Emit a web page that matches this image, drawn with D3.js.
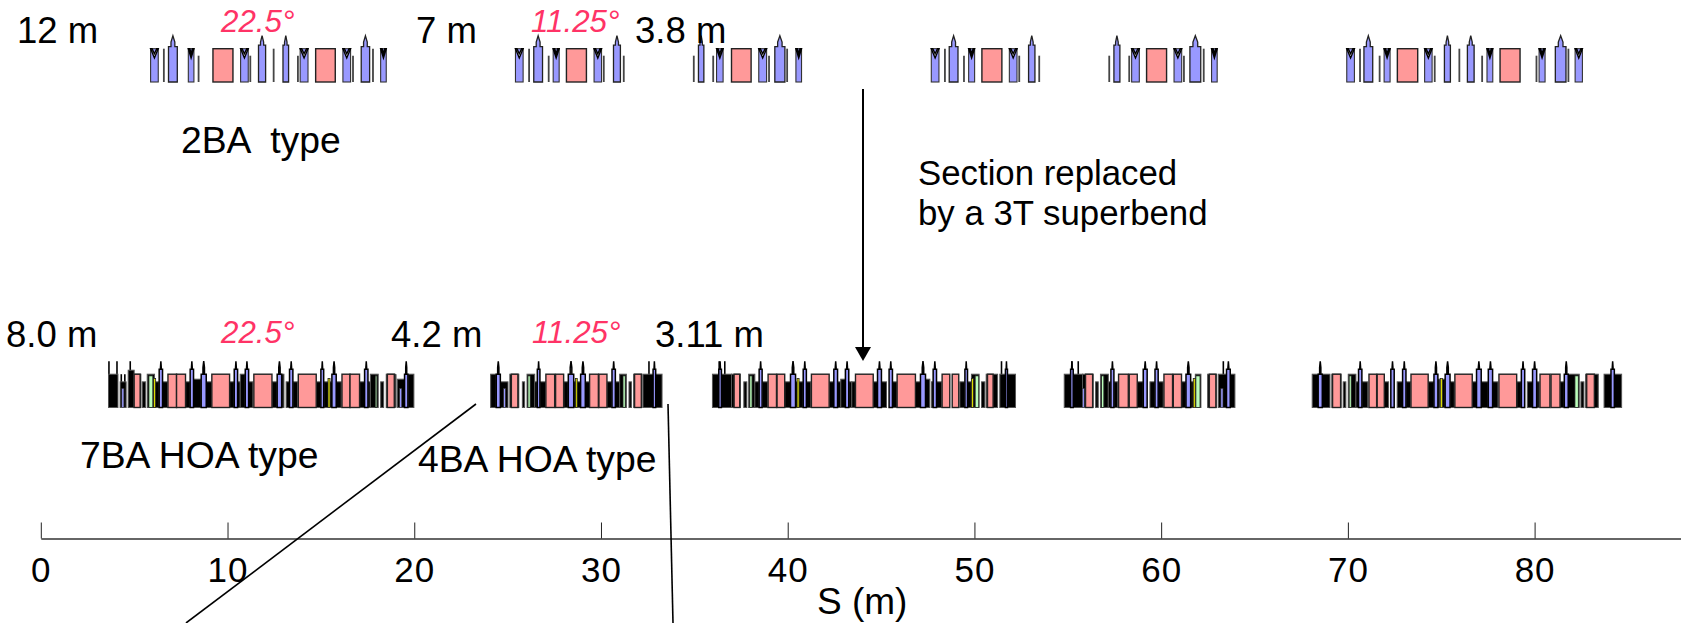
<!DOCTYPE html>
<html>
<head>
<meta charset="utf-8">
<script src="https://cdn.jsdelivr.net/npm/d3@7"></script>
<style>
  html, body { margin: 0; padding: 0; background: #fff; }
  svg { display: block; }
  text { font-family: "Liberation Sans", Arial, sans-serif; fill: #000; }
</style>
</head>
<body>
<div id="chart"></div>
<script>
// magnet positions in metres along S, heights in units of a bend height
var axisTicks = [0, 10, 20, 30, 40, 50, 60, 70, 80];

// top row (2BA / 4BA short cells)
var topBends = [[9.22,10.29],[14.72,15.77],[28.15,29.22],[36.99,38.04],[50.40,51.47],[59.22,60.29],[72.65,73.74],[78.15,79.22]];
var topWideQuads = [[6.84,7.31],[17.16,17.61],[26.40,26.87],[39.31,39.85],[48.65,49.12],[61.54,62.12],[70.86,71.33],[81.11,81.68]];
var topThinQuads = [[11.66,12.04],[12.97,13.27],[30.67,31.04],[35.22,35.51],[52.90,53.24],[57.47,57.79],[75.17,75.49],[76.40,76.76]];
var topSexts = [[5.88,6.29],[7.90,8.20],[10.70,11.11],[13.89,14.31],[16.18,16.59],[18.20,18.50],
  [25.42,25.83],[27.44,27.76],[29.63,30.03],[36.19,36.54],[38.45,38.87],[40.44,40.74],
  [47.69,48.10],[49.69,50.01],[51.87,52.28],[58.42,58.83],[60.69,61.10],[62.70,63.00],
  [69.94,70.35],[71.94,72.26],[74.11,74.51],[77.45,77.76],[80.24,80.56],[82.17,82.56]];
var topCorrectors = [[6.59,1],[8.45,.79],[11.22,.79],[12.47,1],[13.77,.79],[16.72,.79],[17.79,1],
  [26.15,1],[27.2,.79],[30.15,.79],[31.22,.79],[34.97,.79],[36.01,.79],[39.0,.79],[39.97,1],
  [48.42,1],[49.44,.79],[52.40,.79],[53.47,.79],[57.22,.79],[58.29,.79],[61.22,.79],[62.28,1],
  [70.65,1],[71.70,.79],[74.65,.79],[75.97,1],[77.19,.79],[80.1,.79],[81.81,1]];

// bottom row (7BA / 4BA HOA cells)
var lowBlocks = [
  [3.63,4.13,1],[4.25,4.57,.77],[4.68,5.0,1.12],[5.0,5.36,1],[5.43,5.61,.77],[5.70,6.09,1],[6.09,6.34,.77],[6.52,6.79,.77],
  [7.75,8.0,.77],[8.18,8.59,.85],[8.86,9.15,.77],[10.11,10.36,.77],[10.54,10.68,.77],[10.68,10.95,1],[11.13,11.36,.77],[12.38,12.66,.77],
  [12.9,13.02,1],[13.14,13.32,.77],[13.5,13.75,.77],[14.75,15.0,.77],[15.15,15.61,.77],[15.82,16.09,.77],[17.07,17.34,.77],[17.52,17.65,.77],
  [17.65,18.07,1],[18.2,18.36,.77],[18.5,18.98,1],[19.09,19.48,.85],[19.66,19.98,1],
  [24.09,24.39,1],[24.61,25.02,.77],[25.12,25.6,1],[25.79,25.91,.77],[26.04,26.45,1],[26.45,26.59,.77],[26.73,27.04,.77],[28,28.25,.77],[28.54,28.91,.77],
  [29.16,29.39,.77],[30.32,30.59,.77],[30.77,31,.77],[31,31.36,1],[31.5,31.63,.77],[31.75,32.2,1],[32.25,33.27,1],
  [35.97,36.99,1],[36.99,37.47,1],[37.65,37.81,.77],[37.91,38.24,1],[38.24,38.47,.77],[38.63,38.92,.77],[39.84,40.15,.77],[40.42,40.83,.77],
  [41,41.24,.77],[42.22,42.47,.77],[42.67,42.84,.77],[42.84,43.09,.85],[43.27,43.43,.77],[43.43,43.63,.77],[44.58,44.81,.77],[45.02,45.29,.77],
  [45.61,45.86,.77],[46.84,47.11,.77],[47.38,47.61,.85],[47.7,47.79,.77],[47.97,48.24,.77],[49.22,49.49,.77],[49.63,49.84,.77],[49.84,50.25,1],[50.38,50.56,.77],
  [50.63,51.24,1],[51.36,52.2,1],
  [54.81,55.79,1],[55.79,56.36,1],[56.49,56.63,.77],[56.75,57.17,1],[57.17,57.31,.77],[57.47,57.68,.77],[58.72,59.04,.77],[59.4,59.67,.77],
  [59.84,60.11,.77],[61.09,61.33,.77],[61.58,61.72,.77],[61.83,62.13,1],[62.49,62.97,1],[63.06,63.95,1],
  [68.09,69.04,1],[69.14,69.64,1],[69.75,69.89,.77],[70.02,70.43,1],[70.43,70.57,.77],[70.75,71.07,.77],[71.95,72.18,.77],[72.64,72.93,.77],
  [73.11,73.36,.77],[74.3,74.61,.77],[74.82,74.93,.85],[75.07,75.21,.85],[75.47,75.7,.77],[76.66,76.89,.77],[77.14,77.52,.77],[77.75,78.04,.77],
  [79.04,79.29,.77],[79.61,79.89,.77],[80.11,80.25,.77],[81.36,81.59,.77],[81.8,82.39,1],[82.48,82.64,.77],[82.73,83.41,1],[83.72,84.66,1]
];
var lowSpikes = [[3.65,1.39],[4.08,1.39],[4.31,1],[4.5,1],[4.79,1.39],[19.0,1],
  [32.57,1.39],[36.33,1.39],[36.63,1.39],[51.45,1.39],[55.22,1.39],[55.56,1.39],[63.33,1.39]];
var lowBends = [[5.0,5.32],[6.81,7.27],[7.27,7.75],[9.16,10.11],[11.41,12.38],[13.79,14.75],[16.13,16.56],[16.56,17.07],[18.56,18.93],
  [25.2,25.55],[27.05,27.52],[27.57,28],[29.39,29.86],[29.89,30.32],[31.8,32.16],
  [37.13,37.43],[38.95,39.4],[39.43,39.84],[41.27,42.22],[43.63,44.58],[45.86,46.84],[48.27,48.68],[48.81,49.16],[50.7,51.0],
  [55.95,56.33],[57.72,58.24],[58.29,58.72],[60.15,60.61],[60.65,61.09],[62.58,62.93],
  [69.18,69.61],[71.13,71.54],[71.57,71.95],[73.38,74.3],[75.73,76.66],[78.09,79.04],[80.29,80.82],[80.88,81.36],[82.79,83.2]];
var lowGreens = [[5.79,6.0],[17.91,18.0],[26.09,26.21],[31.18,31.3],[37.97,38.09],[50.04,50.23],[56.81,56.93],[61.86,62.08],[70.07,70.18],[82.16,82.34]];
var lowYellows = [[6.04,6.15],[15.38,15.49],[28.63,28.73],[40.5,40.61],[49.84,49.95],[61.72,61.83],[74.95,75.07]];
var lowWideQuads = [[8.59,8.86],[12.66,12.9],[15.59,15.82],[19.48,19.66],[24.39,24.61],[28.25,28.54],[28.91,29.16],
  [40.15,40.42],[47.11,47.38],[61.33,61.58],[68.41,68.63],[74.61,74.82],[75.21,75.47],[81.59,81.8]];
var lowThinQuads = [[6.34,6.52],[8.0,8.18],[10.36,10.54],[10.95,11.13],[13.32,13.5],[15.0,15.15],[17.34,17.52],
  [26.59,26.73],[30.59,30.77],[32.79,32.93],[36.31,36.45],[38.47,38.63],[40.83,41.0],[42.47,42.67],[43.09,43.27],[44.81,45.02],[45.43,45.61],[47.79,47.97],[49.49,49.63],[51.66,51.77],
  [55.15,55.29],[57.31,57.47],[59.04,59.25],[59.67,59.84],[63.5,63.7],
  [70.57,70.75],[72.3,72.48],[72.93,73.11],[76.89,77.14],[77.52,77.75],[79.29,79.47],[79.89,80.11],[84.09,84.27]];
var lowShortQuads = [[4.34,4.45],[19.22,19.33],[24.79,24.88],[55.79,55.88],[63.2,63.31]];

var blackLabels = [["12 m",17,43],["7 m",416,43],["3.8 m",635,43],["8.0 m",6,347],["4.2 m",391,347],["3.11 m",655,347]];
var pinkLabels = [["22.5°",221,32],["11.25°",531,32],["22.5°",221,343],["11.25°",532,343]];
var noteLabels = [["2BA  type",181,153],["7BA HOA type",80,468],["4BA HOA type",418,472]];
var sectionNote = ["Section replaced","by a 3T superbend"];

var width = 1681, height = 623;

var svg = d3.select("#chart").append("svg")
    .attr("width", width)
    .attr("height", height);

// the source figure is a resized bitmap, so the magnets are slightly soft
svg.append("defs").append("filter").attr("id", "soft")
    .attr("x", "-2%").attr("y", "-10%").attr("width", "104%").attr("height", "120%")
  .append("feGaussianBlur").attr("stdDeviation", .4);

var x = d3.scaleLinear().domain([0, 87.84]).range([40.8, width]);
var h = d3.scaleLinear().domain([0, 1]).range([0, -33.3]);

function boxes(g, data, fill, stroke, sw, top) {
  g.selectAll(null).data(data).enter().append("rect")
      .attr("x", function(d) { return x(d[0]); })
      .attr("width", function(d) { return x(d[1]) - x(d[0]); })
      .attr("y", function(d) { return h(d[2] === undefined ? top : d[2]); })
      .attr("height", function(d) { return -h(d[2] === undefined ? top : d[2]); })
      .attr("fill", fill)
      .attr("stroke", stroke)
      .attr("stroke-width", sw);
}

function ticks(g, data, color, sw) {
  g.selectAll(null).data(data).enter().append("line")
      .attr("x1", function(d) { return x(d[0]); })
      .attr("x2", function(d) { return x(d[0]); })
      .attr("y1", h(0))
      .attr("y2", function(d) { return h(d[1]); })
      .attr("stroke", color)
      .attr("stroke-width", sw);
}

// blue quadrupole: body plus a tapered tip
function quads(g, data, shoulder, neck, edge, sw) {
  g.selectAll(null).data(data).enter().append("path")
      .attr("d", function(d) {
        var a = x(d[0]), b = x(d[1]), m = (a + b) / 2, n = (b - a) * neck;
        return "M" + a + "," + h(0) + "L" + a + "," + h(shoulder) +
          "L" + (m - n) + "," + h(shoulder) + "L" + (m - n) + "," + h(1.2) +
          "L" + m + "," + h(1.39) + "L" + (m + n) + "," + h(1.2) +
          "L" + (m + n) + "," + h(shoulder) + "L" + b + "," + h(shoulder) +
          "L" + b + "," + h(0) + "Z";
      })
      .attr("fill", "#9999ff")
      .attr("stroke", edge)
      .attr("stroke-width", sw);
}

// sextupole: short blue bar with the black V at the top
function sexts(g, data) {
  boxes(g, data, "#9999ff", "#333", 1.1, 1);
  g.selectAll(null).data(data).enter().append("path")
      .attr("d", function(d) {
        var a = x(d[0]), b = x(d[1]), m = (a + b) / 2;
        return "M" + a + "," + h(1) + "L" + m + "," + h(.72) + "L" + b + "," + h(1) +
          "L" + (b - 1.5) + "," + h(1) + "L" + m + "," + h(.85) + "L" + (a + 1.5) + "," + h(1) + "Z";
      })
      .attr("fill", "#fff")
      .attr("stroke", "#000")
      .attr("stroke-width", 1.4);
}

var topRow = svg.append("g").attr("transform", "translate(0,82)").attr("filter", "url(#soft)");
ticks(topRow, topCorrectors, "#444", 1.8);
boxes(topRow, topBends, "#ff9999", "#222", 1.4, 1);
quads(topRow, topWideQuads, 1.06, .22, "#222", 1.3);
quads(topRow, topThinQuads, 1.11, .22, "#222", 1.3);
sexts(topRow, topSexts);

var lowRow = svg.append("g").attr("transform", "translate(0,407.5)").attr("filter", "url(#soft)");
ticks(lowRow, lowSpikes, "#000", 1.6);
boxes(lowRow, lowBlocks, "#000", "#555", 1);
boxes(lowRow, lowBends, "#ff9999", "#222", 1.4, 1);
boxes(lowRow, lowGreens, "#bbffbb", "#222", .8, .95);
boxes(lowRow, lowYellows, "#dddd00", "#222", .8, .87);
quads(lowRow, lowWideQuads, 1.0, .15, "#000", 1.5);
quads(lowRow, lowThinQuads, 1.15, .12, "#000", 1.5);
boxes(lowRow, lowShortQuads, "#9999ff", "#333", .6, .57);

// S axis, ticks point up from the baseline, labels below
var axis = d3.axisBottom(x).tickValues(axisTicks).tickSize(-16).tickSizeOuter(0).tickPadding(16);
var axisG = svg.append("g")
    .attr("transform", "translate(0,538.5)")
    .call(axis);
axisG.selectAll("path").attr("stroke", "#333").attr("stroke-width", 1.4);
axisG.selectAll("line").attr("stroke", "#222").attr("stroke-width", 1);
axisG.selectAll("text")
    .style("font-family", "'Liberation Sans', Arial, sans-serif")
    .style("font-size", "35px")
    .style("letter-spacing", "1px")
    .attr("dy", "0.71em")
    .attr("y", 19)
    .attr("fill", "#000");

svg.append("text").attr("x", 817).attr("y", 614)
    .style("font-size", "37px")
    .text("S (m)");

// hand drawn annotation lines
svg.append("line").attr("x1", 476).attr("y1", 404).attr("x2", 186).attr("y2", 623)
    .attr("stroke", "#000").attr("stroke-width", 1.6);
svg.append("line").attr("x1", 668).attr("y1", 404).attr("x2", 673).attr("y2", 623)
    .attr("stroke", "#000").attr("stroke-width", 1.6);
svg.append("line").attr("x1", 863).attr("y1", 89).attr("x2", 863).attr("y2", 350)
    .attr("stroke", "#000").attr("stroke-width", 2);
svg.append("path").attr("d", "M855,347L871,347L863,361Z").attr("fill", "#000");

svg.selectAll(".blk").data(blackLabels).enter().append("text")
    .attr("class", "blk")
    .attr("x", function(d) { return d[1]; })
    .attr("y", function(d) { return d[2]; })
    .style("font-size", "36.5px")
    .text(function(d) { return d[0]; });

svg.selectAll(".pnk").data(pinkLabels).enter().append("text")
    .attr("class", "pnk")
    .attr("x", function(d) { return d[1]; })
    .attr("y", function(d) { return d[2]; })
    .style("font-size", "31.3px")
    .style("font-style", "italic")
    .style("fill", "#ff3366")
    .text(function(d) { return d[0]; });

svg.selectAll(".note").data(noteLabels).enter().append("text")
    .attr("class", "note")
    .attr("x", function(d) { return d[1]; })
    .attr("y", function(d) { return d[2]; })
    .style("white-space", "pre")
    .style("font-size", "37.3px")
    .text(function(d) { return d[0]; });

svg.selectAll(".sec").data(sectionNote).enter().append("text")
    .attr("class", "sec")
    .attr("x", 918)
    .attr("y", function(d, i) { return 185 + i * 40; })
    .style("font-size", "34.8px")
    .text(function(d) { return d; });
</script>
</body>
</html>
